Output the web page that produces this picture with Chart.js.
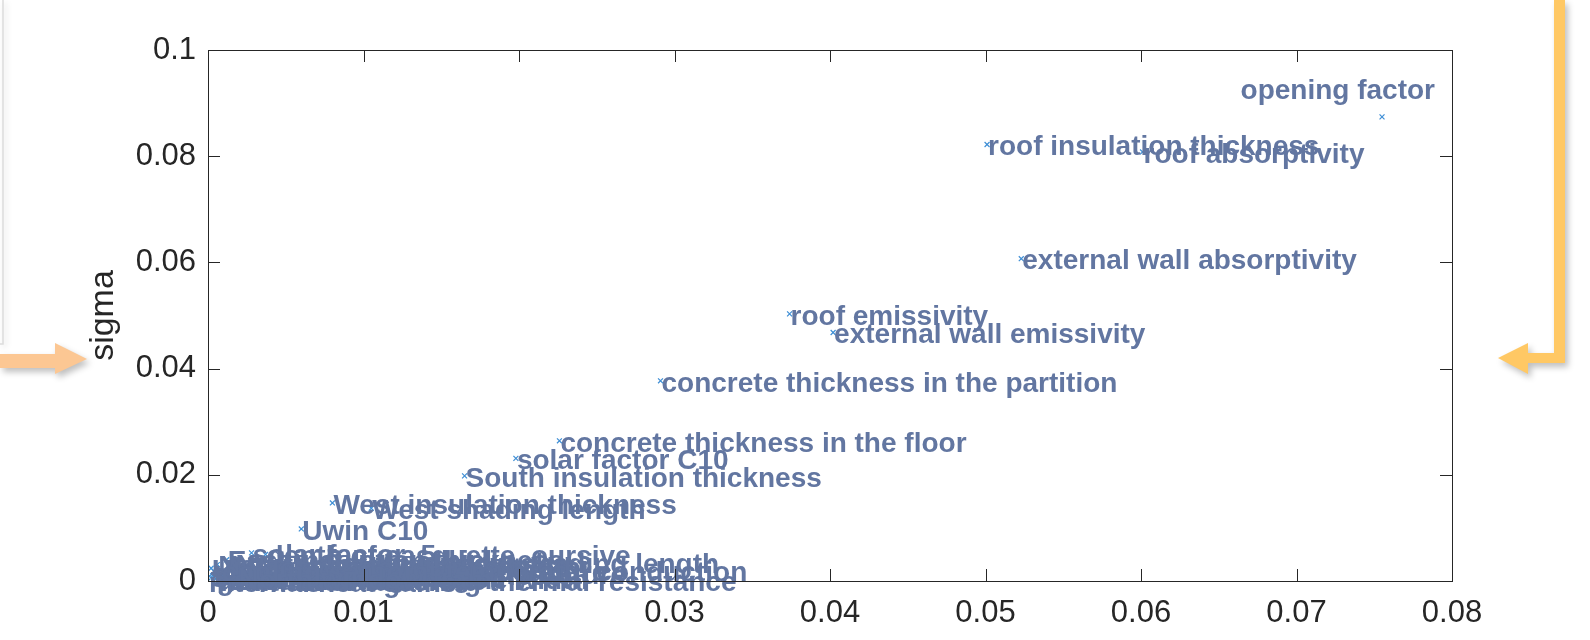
<!DOCTYPE html>
<html>
<head>
<title>Morris sensitivity</title>
<script src="https://cdn.jsdelivr.net/npm/chart.js"></script>
<style>
  body { margin: 0; background: #fff; }
</style>
</head>
<body>
<canvas id="myChart" width="1590" height="640"></canvas>
<script>
// parameter names, mu* (x) and sigma (y)
var parameters = [
    'opening factor', 'roof insulation thickness', 'roof absorptivity',
    'external wall absorptivity', 'roof emissivity', 'external wall emissivity',
    'concrete thickness in the partition', 'concrete thickness in the floor',
    'solar factor C10', 'South insulation thickness', 'West insulation thickness',
    'West shading length', 'Uwin C10', 'solar factor_5',
    'depth of casquette_oursive', 'South window shading length',
    'internal partition thermal conduction', 'floor covering thermal resistance',
    'East insulation thickness', 'North insulation thickness', 'North shading length',
    'internal wall emissivity', 'Uwin_5', 'heating setpoint temperature',
    'ventilation rate', 'building orientation', 'floor insulation thickness',
    'window to wall ratio', 'ground reflectance', 'infiltration rate',
    'East window frame width', 'internal heat gains',
    'South shading length', 'East wall thickness', 'cooling setpoint temperature',
    'North window frame width'
];
var muStar = [
    0.0755, 0.0501, 0.0601,
    0.0523, 0.0374, 0.0402,
    0.0291, 0.0226,
    0.0198, 0.0165, 0.0080,
    0.0105, 0.0060, 0.0028,
    0.0037, 0.0073,
    0.0032, 0.0055,
    0.0012, 0.0006, 0.0017,
    0.0015, 0.0002, 0.0020,
    0.0004, 0.0003, 0.0009,
    0.0010, 0.0005, 0.0007,
    0.0024, 0.0000,
    0.0001, 0.0013, 0.0008,
    0.0019
];
var sigma = [
    0.0874, 0.0822, 0.0808,
    0.0607, 0.0503, 0.0468,
    0.0377, 0.0264,
    0.0231, 0.0198, 0.0147,
    0.0137, 0.0098, 0.0053,
    0.0050, 0.0036,
    0.0021, 0.0002,
    0.0040, 0.0031, 0.0033,
    0.0027, 0.0024, 0.0015,
    0.0018, 0.0010, 0.0012,
    0.0007, 0.0004, 0.0001,
    0.0028, 0.0000,
    0.0009, 0.0003, 0.0020,
    0.0006
];
var xTicks = [0, 0.01, 0.02, 0.03, 0.04, 0.05, 0.06, 0.07, 0.08];
var xTickLabels = ['0', '0.01', '0.02', '0.03', '0.04', '0.05', '0.06', '0.07', '0.08'];
var yTicks = [0, 0.02, 0.04, 0.06, 0.08, 0.1];
var yTickLabels = ['0', '0.02', '0.04', '0.06', '0.08', '0.1'];
var yTitle = 'sigma';

var points = muStar.map(function (m, i) { return { x: m, y: sigma[i] }; });

// box, inward ticks, y title
var framePlugin = {
    id: 'frame',
    afterDraw: function (chart) {
        var ctx = chart.ctx, a = chart.chartArea;
        var xs = chart.scales.x, ys = chart.scales.y;
        ctx.save();
        ctx.strokeStyle = '#262626';
        ctx.lineWidth = 1;
        ctx.strokeRect(a.left + 0.5, a.top + 0.5, a.right - a.left, a.bottom - a.top);
        ctx.beginPath();
        xTicks.forEach(function (v) {
            var px = Math.round(xs.getPixelForValue(v)) + 0.5;
            ctx.moveTo(px, a.bottom); ctx.lineTo(px, a.bottom - 12);
            ctx.moveTo(px, a.top); ctx.lineTo(px, a.top + 12);
        });
        yTicks.forEach(function (v) {
            var py = Math.round(ys.getPixelForValue(v)) + 0.5;
            ctx.moveTo(a.left, py); ctx.lineTo(a.left + 12, py);
            ctx.moveTo(a.right, py); ctx.lineTo(a.right - 12, py);
        });
        ctx.stroke();
        ctx.translate(104, (a.top + a.bottom) / 2);
        ctx.rotate(-Math.PI / 2);
        ctx.fillStyle = '#262626';
        ctx.font = '34px "Liberation Sans", Arial, sans-serif';
        ctx.textAlign = 'center';
        ctx.textBaseline = 'middle';
        ctx.fillText(yTitle, 0, 0);
        ctx.restore();
    }
};

// parameter names next to each marker
var labelPlugin = {
    id: 'pointLabels',
    afterDatasetsDraw: function (chart) {
        var ctx = chart.ctx, a = chart.chartArea;
        var meta = chart.getDatasetMeta(0);
        ctx.save();
        ctx.font = 'bold 28px "Liberation Sans", Arial, sans-serif';
        ctx.fillStyle = '#6276a1';
        ctx.textBaseline = 'middle';
        meta.data.forEach(function (el, i) {
            var text = parameters[i];
            var w = ctx.measureText(text).width;
            if (el.x + w > a.right) {
                ctx.textAlign = 'right';
                ctx.fillText(text, a.right - 17, el.y - 26);
            } else {
                ctx.textAlign = 'left';
                ctx.fillText(text, el.x + 1, el.y + 3);
            }
        });
        ctx.restore();
    }
};

// slide decorations around the figure
var decoPlugin = {
    id: 'deco',
    beforeDraw: function (chart) {
        var ctx = chart.ctx;
        ctx.save();
        ctx.fillStyle = '#fff';
        ctx.fillRect(0, 0, chart.width, chart.height);
        // left panel edge
        ctx.shadowColor = 'rgba(0,0,0,0.18)';
        ctx.shadowBlur = 6;
        ctx.shadowOffsetX = 2;
        ctx.shadowOffsetY = 2;
        ctx.strokeStyle = '#dcdcdc';
        ctx.lineWidth = 1.5;
        ctx.beginPath();
        ctx.moveTo(3, 0); ctx.lineTo(3, 344); ctx.lineTo(0, 344);
        ctx.stroke();
        // left arrow
        ctx.shadowColor = 'rgba(0,0,0,0.25)';
        ctx.shadowBlur = 6;
        ctx.shadowOffsetX = 3;
        ctx.shadowOffsetY = 4;
        ctx.fillStyle = '#fcc793';
        ctx.beginPath();
        ctx.moveTo(0, 354); ctx.lineTo(55, 354); ctx.lineTo(55, 343);
        ctx.lineTo(87, 359); ctx.lineTo(55, 374); ctx.lineTo(55, 368);
        ctx.lineTo(0, 368); ctx.closePath();
        ctx.fill();
        // right bracket arrow
        ctx.fillStyle = '#ffc864';
        ctx.beginPath();
        ctx.moveTo(1554, 0); ctx.lineTo(1565, 0); ctx.lineTo(1565, 363);
        ctx.lineTo(1528, 363); ctx.lineTo(1528, 374); ctx.lineTo(1498, 358);
        ctx.lineTo(1528, 343); ctx.lineTo(1528, 353); ctx.lineTo(1554, 353);
        ctx.closePath();
        ctx.fill();
        ctx.restore();
    }
};

var tickFont = { family: '"Liberation Sans", Arial, sans-serif', size: 31 };

var ctx = document.getElementById('myChart').getContext('2d');
var myChart = new Chart(ctx, {
    type: 'scatter',
    data: {
        datasets: [{
            data: points,
            pointStyle: 'crossRot',
            pointRadius: 3.5,
            borderColor: '#3e8ed5',
            backgroundColor: '#3e8ed5',
            borderWidth: 1.2
        }]
    },
    options: {
        responsive: false,
        animation: false,
        devicePixelRatio: 1,
        layout: { padding: { top: 50, right: 138, left: 0, bottom: 0 } },
        plugins: { legend: { display: false }, tooltip: { enabled: false } },
        scales: {
            x: {
                type: 'linear', min: 0, max: 0.08,
                afterBuildTicks: function (s) { s.ticks = xTicks.map(function (v) { return { value: v }; }); },
                afterFit: function (s) { s.height = 59; },
                grid: { display: false, drawTicks: false },
                border: { display: false },
                ticks: {
                    autoSkip: false, maxRotation: 0, padding: 14,
                    color: '#262626', font: tickFont,
                    callback: function (v, i) { return xTickLabels[i]; }
                }
            },
            y: {
                type: 'linear', min: 0, max: 0.1,
                afterBuildTicks: function (s) { s.ticks = yTicks.map(function (v) { return { value: v }; }); },
                afterFit: function (s) { s.width = 208; },
                grid: { display: false, drawTicks: false },
                border: { display: false },
                ticks: {
                    autoSkip: false, padding: 12,
                    color: '#262626', font: tickFont,
                    callback: function (v, i) { return yTickLabels[i]; }
                }
            }
        }
    },
    plugins: [decoPlugin, framePlugin, labelPlugin]
});
</script>
</body>
</html>
